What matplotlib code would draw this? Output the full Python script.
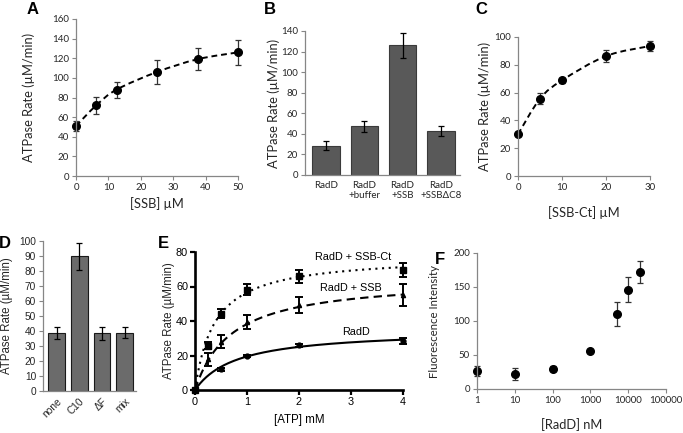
import numpy as np
import matplotlib.pyplot as plt
from matplotlib.path import Path
from matplotlib.patches import PathPatch

W, H = 683, 433

# ---- data ----
# A: ATPase rate vs SSB
ssb_conc = [0, 6.25, 12.5, 25, 37.5, 50]
ssb_rate = [51, 72, 88, 106, 119, 126]
ssb_err = [5, 9, 8, 12, 11, 12.5]

# B: bar chart
b_labels = ["RadD", "RadD\n+buffer", "RadD\n+SSB", "RadD\n+SSB\u0394C8"]
b_rate = [28.5, 47.5, 126, 43]
b_err = [4.5, 5.3, 12, 5]

# C: ATPase rate vs SSB-Ct
ct_conc = [0, 5, 10, 20, 30]
ct_rate = [30, 55.6, 68.8, 86.3, 93.5]
ct_err = [1.5, 4, 2, 4, 3.5]

# D: peptides
d_labels = ["none", "C10", "\u0394F", "mix"]
d_rate = [38.5, 90, 38.5, 39]
d_err = [4, 9, 4.5, 3.5]

# E: ATP titration
atp_radd = [0, 0.5, 1, 2, 4]
radd_rate = [0, 12.1, 19.7, 26, 28.5]
radd_err = [0, 0.8, 0.8, 0.8, 1.8]
atp_ssb = [0, 0.25, 0.5, 1, 2, 4]
ssb_e_rate = [0, 17.9, 28, 39.5, 49.2, 55]
ssb_e_err = [0, 3.7, 3.9, 3.9, 4.5, 6.5]
atp_ct = [0, 0.25, 0.5, 1, 2, 4]
ct_e_rate = [0, 25.6, 44.3, 58.2, 66, 69.4]
ct_e_err = [0, 2, 2.8, 3, 3.8, 4]
# Michaelis-Menten fit parameters (Vmax, Km)
fit_radd = (35, 0.8)
fit_ssb = (65, 0.7)
fit_ct = (78, 0.38)

# F: fluorescence vs RadD
radd_nm = [1, 10, 100, 1000, 5000, 10000, 20000]
fluor = [26.8, 22, 29.8, 56, 109.8, 146, 172]
fluor_err = [7, 8.5, 4, 2, 17.5, 18, 16.5]

excel_font = "Lato"
arial = "Liberation Sans"
grey = "#868686"
txt = "#262626"
title_fs = 9.3

fig = plt.figure(figsize=(W / 100, H / 100), dpi=100)


def axes_px(x0, x1, ytop, ybot):
    return fig.add_axes([x0 / W, (H - ybot) / H, (x1 - x0) / W, (ybot - ytop) / H])


def excel_style(ax, fs=7):
    for s in ["top", "right"]:
        ax.spines[s].set_visible(False)
    for s in ["left", "bottom"]:
        ax.spines[s].set_color(grey)
        ax.spines[s].set_linewidth(0.9)
    ax.tick_params(direction="out", length=3, width=0.8, color=grey,
                   labelsize=fs, labelcolor=txt, pad=2)
    for lab in ax.get_xticklabels() + ax.get_yticklabels():
        lab.set_family(excel_font)


def smooth_line(ax, xs, ys, **kw):
    # Excel style smoothed line as bezier path through the points
    p = np.column_stack([xs, ys]).astype(float)
    pts = np.vstack([p[0], p, p[-1]])
    verts = [p[0]]
    codes = [Path.MOVETO]
    for i in range(1, len(pts) - 2):
        c1 = pts[i] + (pts[i + 1] - pts[i - 1]) / 6
        c2 = pts[i + 1] - (pts[i + 2] - pts[i]) / 6
        verts += [c1, c2, pts[i + 1]]
        codes += [Path.CURVE4] * 3
    ax.add_patch(PathPatch(Path(verts, codes), fill=False, **kw))


def label_y(ax, text, xpx, family, fs):
    ax.set_ylabel(text, family=family, fontsize=fs, color=txt)
    bb = ax.get_position()
    ax.yaxis.set_label_coords((xpx / W - bb.x0) / bb.width, 0.5)


def label_x(ax, text, ypx, family, fs, color=txt):
    ax.set_xlabel(text, family=family, fontsize=fs, color=color)
    bb = ax.get_position()
    ax.xaxis.set_label_coords(0.5, ((H - ypx) / H - bb.y0) / bb.height)


def letter(s, xpx, ypx):
    fig.text(xpx / W, 1 - ypx / H, s, ha="center", va="center",
             family=arial, fontsize=12, weight="bold")


# ---- A ----
axA = axes_px(76, 238, 19, 176)
smooth_line(axA, ssb_conc, ssb_rate, ls=(0, (3, 2)), lw=1.4, color="black")
axA.errorbar(ssb_conc, ssb_rate, yerr=ssb_err, fmt="o", ms=5.5, color="black",
             ecolor="#333333", elinewidth=0.9, capsize=2.5, capthick=0.9, clip_on=False)
axA.set_xlim(0, 50)
axA.set_ylim(0, 160)
axA.set_xticks(range(0, 51, 10))
axA.set_yticks(range(0, 161, 20))
excel_style(axA)
label_y(axA, "ATPase Rate (\u00b5M/min)", 35, excel_font, title_fs)
label_x(axA, "[SSB] \u00b5M", 197, excel_font, title_fs)

# ---- B ----
axB = axes_px(305, 460, 31, 175)
xb = np.arange(len(b_rate))
axB.bar(xb, b_rate, width=0.72, color="#595959", edgecolor="#3a3a3a", linewidth=0.8,
        yerr=b_err, error_kw=dict(ecolor="black", elinewidth=0.9, capsize=2.5, capthick=0.9))
axB.set_xlim(-0.55, 3.5)
axB.set_ylim(0, 140)
axB.set_yticks(range(0, 141, 20))
axB.set_xticks(xb)
axB.set_xticklabels(b_labels, linespacing=1.15)
excel_style(axB)
axB.tick_params(axis="x", length=0, pad=4)
label_y(axB, "ATPase Rate (\u00b5M/min)", 280, excel_font, title_fs)

# ---- C ----
axC = axes_px(518, 650, 37, 176)
smooth_line(axC, ct_conc, ct_rate, ls=(0, (3, 2)), lw=1.4, color="black")
axC.errorbar(ct_conc, ct_rate, yerr=ct_err, fmt="o", ms=5.5, color="black",
             ecolor="#333333", elinewidth=0.9, capsize=2.5, capthick=0.9, clip_on=False)
axC.set_xlim(0, 30)
axC.set_ylim(0, 100)
axC.set_xticks(range(0, 31, 10))
axC.set_yticks(range(0, 101, 20))
excel_style(axC)
label_y(axC, "ATPase Rate (\u00b5M/min)", 491, excel_font, title_fs)
label_x(axC, "[SSB-Ct] \u00b5M", 206, excel_font, title_fs)

# ---- D ----
axD = axes_px(43, 136, 241, 391)
xd = np.arange(len(d_rate))
axD.bar(xd, d_rate, width=0.73, color="#6b6b6b", edgecolor="#1a1a1a", linewidth=0.8,
        yerr=d_err, error_kw=dict(ecolor="black", elinewidth=0.9, capsize=2, capthick=0.9))
axD.set_xlim(-0.6, 3.5)
axD.set_ylim(0, 100)
axD.set_yticks(range(0, 101, 10))
axD.set_xticks(xd)
axD.set_xticklabels(d_labels, rotation=45, ha="right", rotation_mode="anchor")
excel_style(axD, fs=7.3)
for lab in axD.get_xticklabels() + axD.get_yticklabels():
    lab.set_family(arial)
axD.tick_params(axis="x", length=0, pad=4)
label_y(axD, "ATPase Rate (\u00b5M/min)", 13, arial, 8.3)

# ---- E ----
axE = axes_px(195, 403, 252, 390)
xx = np.linspace(0, 4, 200)
for (vm, km), ls in [(fit_ct, (0, (1, 2.2))), (fit_ssb, (0, (4, 2.5))), (fit_radd, "-")]:
    axE.plot(xx, vm * xx / (km + xx), color="black", lw=1.5, ls=ls)
ek = dict(color="black", ecolor="black", elinewidth=1.4, capsize=3, capthick=1.4,
          ls="none", clip_on=False)
axE.errorbar(atp_ct, ct_e_rate, yerr=ct_e_err, marker="s", ms=4, **ek)
axE.errorbar(atp_ssb, ssb_e_rate, yerr=ssb_e_err, marker="^", ms=3, **ek)
axE.errorbar(atp_radd, radd_rate, yerr=radd_err, marker="o", ms=3.5, **ek)
axE.set_xlim(0, 4)
axE.set_ylim(0, 80)
axE.set_xticks(range(0, 5))
axE.set_yticks(range(0, 81, 20))
for s in ["top", "right"]:
    axE.spines[s].set_visible(False)
for s in ["left", "bottom"]:
    axE.spines[s].set_linewidth(1.9)
axE.tick_params(direction="out", length=3.5, width=1.6, labelsize=7.8, pad=1.5)
for lab in axE.get_xticklabels() + axE.get_yticklabels():
    lab.set_family(arial)
axE.text(3.05, 77, "RadD + SSB-Ct", family=arial, fontsize=7.8, ha="center", va="center")
axE.text(2.99, 59, "RadD + SSB", family=arial, fontsize=7.8, ha="center", va="center")
axE.text(3.09, 33.7, "RadD", family=arial, fontsize=7.8, ha="center", va="center")
label_y(axE, "ATPase Rate (\u00b5M/min)", 175, arial, 8.3)
label_x(axE, "[ATP] mM", 414, arial, 8.3, color="black")

# ---- F ----
axF = axes_px(477, 666, 253, 389)
axF.errorbar(radd_nm, fluor, yerr=fluor_err, fmt="o", ms=5.5, color="black",
             ecolor="#333333", elinewidth=0.9, capsize=2.5, capthick=0.9, clip_on=False)
axF.set_xscale("log")
axF.set_xlim(1, 100000)
axF.set_ylim(0, 200)
axF.set_yticks(range(0, 201, 50))
axF.set_xticks([1, 10, 100, 1000, 10000, 100000])
axF.set_xticklabels(["1", "10", "100", "1000", "10000", "100000"])
axF.minorticks_off()
excel_style(axF)
label_y(axF, "Fluorescence Intensity", 440, excel_font, 8.2)
label_x(axF, "[RadD] nM", 418, excel_font, title_fs)

letter("A", 32.5, 9)
letter("B", 270, 9)
letter("C", 481, 9)
letter("D", 5, 243)
letter("E", 163, 243)
letter("F", 440, 259)

fig.savefig("out.png", dpi=100)
